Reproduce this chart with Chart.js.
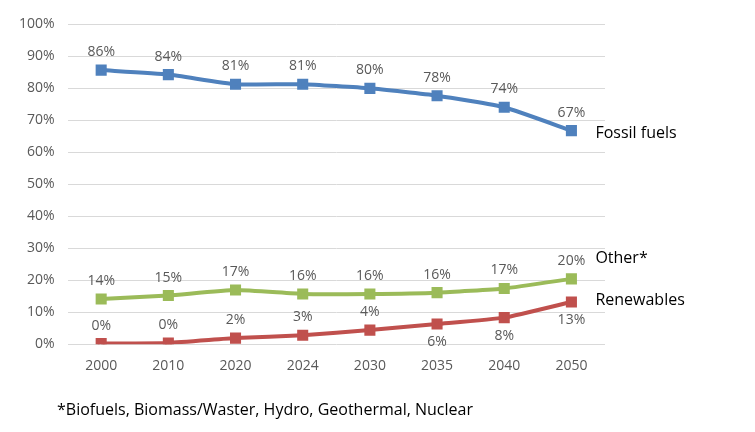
<!DOCTYPE html>
<html>
<head>
<meta charset="utf-8">
<script src="https://cdn.jsdelivr.net/npm/chart.js@4"></script>
<style>
  html, body { margin: 0; padding: 0; background: #fff; }
  #wrap { width: 755px; height: 432px; }
</style>
</head>
<body>
<div id="wrap"><canvas id="chart"></canvas></div>
<script>
const years = ["2000", "2010", "2020", "2024", "2030", "2035", "2040", "2050"];
const fossil = [85.6, 84.2, 81.2, 81.2, 79.9, 77.6, 74.0, 66.7];
const other = [14.1, 15.2, 16.9, 15.7, 15.7, 16.1, 17.4, 20.4];
const renewables = [0.2, 0.4, 1.9, 2.8, 4.4, 6.3, 8.3, 13.2];
const seriesNames = ["Fossil fuels", "Other*", "Renewables"];
const footnote = "*Biofuels, Biomass/Waster, Hydro, Geothermal, Nuclear";

// renewables labels go below the point from 2035 on
const belowFrom = 5;
const font = "'Open Sans', Calibri, sans-serif";

const labelPlugin = {
  id: "labels",
  afterDatasetsDraw(chart) {
    const ctx = chart.ctx;
    ctx.save();
    ctx.font = "14px " + font;
    ctx.fillStyle = "#595959";
    ctx.textAlign = "center";
    chart.data.datasets.forEach((ds, i) => {
      const meta = chart.getDatasetMeta(i);
      meta.data.forEach((pt, j) => {
        const below = i === 2 && j >= belowFrom;
        ctx.textBaseline = below ? "top" : "bottom";
        const y = below ? pt.y + 11 : pt.y - 11;
        ctx.fillText(Math.round(ds.data[j]) + "%", pt.x, y);
      });
      // series name to the right of the last point
      const last = meta.data[meta.data.length - 1];
      ctx.save();
      ctx.font = "16px " + font;
      ctx.fillStyle = "#000";
      ctx.textAlign = "left";
      ctx.textBaseline = "middle";
      const offs = [3, -20, -1];
      ctx.fillText(seriesNames[i], last.x + 24, last.y + offs[i]);
      ctx.restore();
    });
    ctx.font = "16px " + font;
    ctx.fillStyle = "#000";
    ctx.textAlign = "left";
    ctx.textBaseline = "middle";
    ctx.fillText(footnote, 57, 410);
    ctx.restore();
  }
};

new Chart(document.getElementById("chart"), {
  type: "line",
  data: {
    labels: years,
    datasets: [
      { label: seriesNames[0], data: fossil, borderColor: "#4F81BD", backgroundColor: "#4F81BD" },
      { label: seriesNames[1], data: other, borderColor: "#9BBB59", backgroundColor: "#9BBB59" },
      { label: seriesNames[2], data: renewables, borderColor: "#C0504D", backgroundColor: "#C0504D" },
    ].map(d => Object.assign(d, {
      borderWidth: 4, pointStyle: "rect", pointRadius: 5, pointHoverRadius: 5,
      tension: 0.15, fill: false
    })),
  },
  options: {
    responsive: true,
    maintainAspectRatio: false,
    animation: false,
    layout: { padding: { top: 24, right: 150, bottom: 53, left: 6 } },
    plugins: { legend: { display: false }, tooltip: { enabled: false } },
    scales: {
      x: {
        offset: true,
        grid: { display: false },
        border: { display: false },
        ticks: { color: "#595959", font: { size: 14, family: font }, padding: 5 },
      },
      y: {
        min: 0, max: 100,
        ticks: { stepSize: 10, color: "#595959", font: { size: 14, family: font },
          callback: v => v + "%", padding: 13 },
        grid: { color: "#d9d9d9", drawTicks: false },
        border: { display: false },
      },
    },
  },
  plugins: [labelPlugin],
});
</script>
</body>
</html>
